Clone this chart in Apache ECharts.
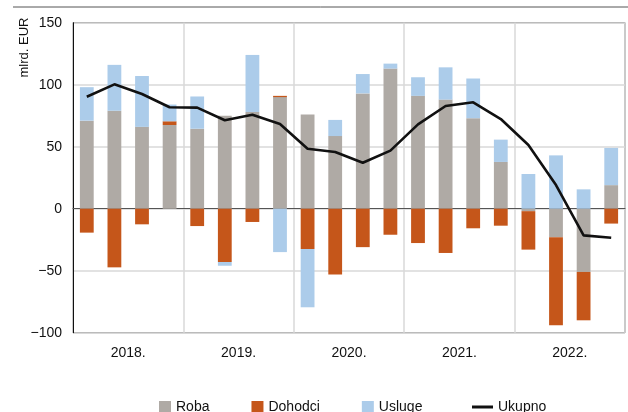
<!DOCTYPE html>
<html>
<head>
<meta charset="utf-8">
<script src="https://cdn.jsdelivr.net/npm/echarts@6/dist/echarts.min.js"></script>
<style>
  html, body { margin: 0; padding: 0; background: #fff; }
  #chart { width: 628px; height: 412px; }
</style>
</head>
<body>
<div id="chart"></div>
<script>
// kvartali 2018 - 2022
var quarters = [
    '2018 Q1', '2018 Q2', '2018 Q3', '2018 Q4',
    '2019 Q1', '2019 Q2', '2019 Q3', '2019 Q4',
    '2020 Q1', '2020 Q2', '2020 Q3', '2020 Q4',
    '2021 Q1', '2021 Q2', '2021 Q3', '2021 Q4',
    '2022 Q1', '2022 Q2', '2022 Q3', '2022 Q4'
];
var years = ['2018.', '2019.', '2020.', '2021.', '2022.'];
var yTicks = [-100, -50, 0, 50, 100, 150];

var roba = [71, 79, 66, 67.5, 64.5, 75, 78, 90, 76, 58.6, 93, 113, 91, 88, 73, 37.7, -2, -23, -51, 19];
var dohodci = [-19.3, -47.3, -12.6, 3, -14, -43, -10.7, 1, -32.5, -53, -31, -21, -27.7, -35.7, -15.8, -13.7, -31, -71, -39, -12];
var usluge = [27, 37, 41, 13.5, 26, -3, 46, -35, -47, 13, 15.6, 4, 15, 26, 32, 18, 28, 43, 15.6, 30];
var ukupno = [90.3, 100.3, 92.5, 81.8, 81.5, 71.3, 75.8, 68.3, 48.4, 45.7, 37.1, 46.8, 68, 82.8, 85.8, 72.3, 51.4, 19.1, -21.5, -23.4];

var font = 'Liberation Sans, Arial, sans-serif';
var gridColor = '#d9d9d9';
var txt = '#111';

var chart = echarts.init(document.getElementById('chart'), null, { renderer: 'canvas' });

function barSeries(name, data, color) {
    return {
        name: name,
        type: 'bar',
        stack: 'total',
        barWidth: '50%',
        xAxisIndex: 0,
        itemStyle: { color: color },
        data: data
    };
}

var option = {
    animation: false,
    textStyle: { fontFamily: font },
    grid: {
        left: 73, right: 3, top: 22.7, bottom: 79.3,
        show: true,
        borderColor: '#444',
        borderWidth: 1
    },
    legend: [
        {
            data: ['Roba', 'Dohodci', 'Usluge'],
            left: 154, top: 395,
            icon: 'rect',
            itemWidth: 12, itemHeight: 12,
            itemGap: 42,
            textStyle: { fontSize: 14, color: txt, fontFamily: font, padding: [0, 0, 0, 0] }
        },
        {
            data: [{ name: 'Ukupno', icon: 'path://M0,0L21,0L21,3L0,3Z' }],
            left: 467, top: 395,
            itemWidth: 21, itemHeight: 3,
            textStyle: { fontSize: 14, color: txt, fontFamily: font, padding: [0, 0, 0, 0] }
        }
    ],
    xAxis: [
        {
            type: 'category',
            data: quarters,
            axisLine: { onZero: true, lineStyle: { color: '#555', width: 1 } },
            axisTick: { show: false },
            axisLabel: { show: false },
            splitLine: { show: false }
        },
        {
            type: 'category',
            data: years,
            position: 'bottom',
            axisLine: { show: false, onZero: false },
            axisTick: { show: false },
            axisLabel: { fontSize: 14, color: txt, margin: 13 },
            splitLine: { show: true, interval: 0, lineStyle: { color: gridColor, width: 1.5 } }
        }
    ],
    yAxis: {
        type: 'value',
        min: yTicks[0],
        max: yTicks[yTicks.length - 1],
        interval: 50,
        axisLine: { show: true, lineStyle: { color: '#111', width: 1 } },
        axisTick: { show: false },
        axisLabel: {
            fontSize: 14, color: txt, margin: 11,
            formatter: function (v) { return String(v).replace('-', '\u2212'); }
        },
        splitLine: { lineStyle: { color: gridColor, width: 1.5 } }
    },
    graphic: [
        {
            type: 'line',
            shape: { x1: 13, y1: 7, x2: 628, y2: 7 },
            style: { stroke: '#555', lineWidth: 1 }
        },
        {
            type: 'text',
            x: 24, y: 47.5,
            rotation: Math.PI / 2,
            style: {
                text: 'mlrd. EUR',
                font: '13px ' + font,
                fill: txt,
                textAlign: 'center',
                textVerticalAlign: 'middle'
            }
        }
    ],
    series: [
        barSeries('Roba', roba, '#afaaa5'),
        barSeries('Dohodci', dohodci, '#c5561a'),
        barSeries('Usluge', usluge, '#acccea'),
        {
            name: 'Ukupno',
            type: 'line',
            xAxisIndex: 0,
            symbol: 'none',
            z: 5,
            lineStyle: { color: '#111', width: 2.6 },
            itemStyle: { color: '#111' },
            data: ukupno
        }
    ]
};

chart.setOption(option);
</script>
</body>
</html>
